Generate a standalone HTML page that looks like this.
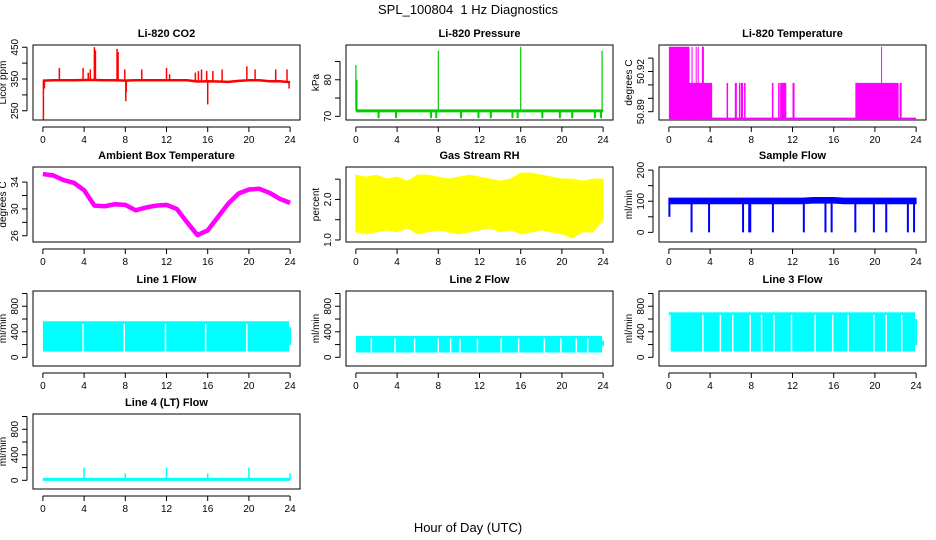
<!DOCTYPE html>
<html><head><meta charset="utf-8"><style>
html,body{margin:0;padding:0;background:#fff;}
svg{display:block;font-family:"Liberation Sans",Arial,sans-serif;}
</style></head><body>
<svg id="c" width="936" height="540" viewBox="0 0 936 540">
<text x="468" y="14" text-anchor="middle" font-size="13" style="white-space:pre">SPL_100804  1 Hz Diagnostics</text>
<text x="468" y="532" text-anchor="middle" font-size="13">Hour of Day (UTC)</text>
</svg>
<script>
// ---- data ----
const xTicks = [0,4,8,12,16,20,24];
const hours = [0,1,2,3,4,5,6,7,8,9,10,11,12,13,14,15,16,17,18,19,20,21,22,23,24];
// CO2
const co2Base = [345,346,346,346,347,347,346,346,345,346,346,346,346,346,346,342,343,342,341,344,346,346,343,343,340];
const co2SpikeHours = [0.05,0.15,1.6,3.9,4.4,4.6,5.0,5.1,7.2,7.3,7.95,8.05,8.1,9.6,12.0,12.3,14.8,15.1,15.4,15.9,16.0,16.5,17.4,19.8,20.6,22.6,23.7,23.9];
const co2SpikeVals = [222,320,385,385,370,380,450,440,445,435,380,280,310,380,385,365,370,375,380,375,270,375,380,390,380,380,380,320];
// Pressure
const presBase = 71.5;
const presSpikeHours = [0.0,0.1,8.0,16.0,23.9];
const presSpikeVals = [84,80,88,89,88];
const presDipHours = [2.2,3.9,7.3,7.8,10.2,11.9,13.1,15.2,15.7,18.1,19.8,21.0,23.2,23.8];
const presDipVals = [69.5,69.5,69.5,69.5,69.5,69.5,69.5,69.5,69.5,69.5,69.5,69.5,69.5,69.5];
// Li-820 temperature
const tLow = 50.885;
const tMidStart = [2.0,5.6,6.4,6.8,7.0,7.3,10.0,10.6,10.8,12.0,18.1,22.4];
const tMidEnd   = [4.2,5.7,6.6,6.9,7.2,7.4,10.05,10.7,11.4,12.2,22.3,22.6];
const tMidVal = 50.9115;
const tHighStart = [0.0,2.2,2.6,2.8,3.2,20.6];
const tHighEnd   = [2.0,2.3,2.7,2.9,3.4,20.65];
const tHighVal = 50.9385;
// Ambient temperature
const ambVals = [35.2,35.0,34.3,33.9,32.8,30.5,30.4,30.7,30.6,29.8,30.2,30.5,30.6,30.0,28.0,26.1,26.8,28.8,30.8,32.3,32.9,33.0,32.4,31.5,30.9];
// Gas stream RH
const rhHi = [2.6,2.55,2.6,2.5,2.55,2.45,2.6,2.6,2.55,2.5,2.55,2.6,2.55,2.5,2.45,2.5,2.65,2.65,2.6,2.55,2.5,2.5,2.45,2.5,2.5];
const rhLo = [1.2,1.15,1.2,1.25,1.2,1.3,1.15,1.2,1.25,1.2,1.15,1.2,1.25,1.3,1.2,1.25,1.15,1.2,1.25,1.2,1.15,1.05,1.2,1.2,1.5];
// Sample flow
const sfHi = [110,110,110,110,110,110,110,110,110,110,110,110,110,110,112,112,112,110,110,110,110,110,110,110,110];
const sfLo = [92,92,92,92,92,92,92,92,92,92,92,92,92,92,94,94,94,92,92,92,92,92,92,92,92];
const sfDipHours = [0.05,2.2,3.9,7.2,7.8,7.9,10.1,13.1,15.2,15.8,18.1,19.9,21.1,23.2,23.8];
const sfDipVals = [50,0,0,0,0,0,0,0,0,0,0,0,0,0,0];
// Line flows
const l1Lo = 90, l1Hi = 565, l1Gaps = [3.9,7.9,11.9,15.8,19.8], l1End = [24,470];
const l2Lo = 75, l2Hi = 335, l2Gaps = [1.5,3.8,5.7,8.0,9.2,10.1,11.8,14.1,15.8,18.3,19.9,21.4,22.5], l2End = [24,260];
const l3Lo = 90, l3Hi = 705, l3Gaps = [0.1,3.3,5.0,6.2,7.9,9.0,10.2,11.9,14.2,15.9,17.4,19.9,21.1,22.6], l3End = [24,600];
// Line 4
const l4Base = 15;
const l4SpikeHours = [4,8,12,16,20,24];
const l4SpikeVals = [200,110,200,110,200,110];

// ---- drawing ----
const svg = document.getElementById('c');
const NS = 'http://www.w3.org/2000/svg';
const colX = [33,346,659], rowY = [45,167,291,414], W = 267, H = 75;
function mk(tag, attrs, parent){const e=document.createElementNS(NS,tag);for(const k in attrs)e.setAttribute(k,attrs[k]);(parent||svg).appendChild(e);return e;}

function panel(col,row,title,ylab,ymin,ymax,yt,yl,name){
  const g = mk('g',{});
  
  
  const x0=colX[col], y0=rowY[row];
  const sx = v => x0 + (v+0.96)/25.92*W;
  const sy = v => y0 + H - (v-ymin)/(ymax-ymin)*H;
  const t = mk('text',{x:x0+W/2,y:y0-8,'text-anchor':'middle','font-size':11,'font-weight':'bold'},g);
  t.textContent = title;
  
  
  const box = mk('rect',{x:x0,y:y0,width:W,height:H,fill:'none',stroke:'#000','stroke-width':1},g);
  
  
  const ay = y0+H+7;
  mk('line',{x1:sx(0),x2:sx(24),y1:ay,y2:ay,stroke:'#000'},g);
  xTicks.forEach(v=>{
    mk('line',{x1:sx(v),x2:sx(v),y1:ay,y2:ay+5,stroke:'#000'},g);
    const tl = mk('text',{x:sx(v),y:ay+16,'text-anchor':'middle','font-size':10},g);
    tl.textContent = v;
    
    
  });
  const ax = x0-6;
  mk('line',{x1:ax,x2:ax,y1:sy(yt[0]),y2:sy(yt[yt.length-1]),stroke:'#000'},g);
  yt.forEach(v=>mk('line',{x1:ax-5,x2:ax,y1:sy(v),y2:sy(v),stroke:'#000'},g));
  yl.forEach(s=>{
    const yy=sy(Number(s));
    const tl = mk('text',{x:ax-9,y:yy,'text-anchor':'middle','font-size':10,transform:`rotate(-90 ${ax-9} ${yy})`},g);
    tl.textContent = s;
    
    
  });
  const yc = y0+H/2, lx = x0-27;
  const ytl = mk('text',{x:lx,y:yc,'text-anchor':'middle','font-size':10,transform:`rotate(-90 ${lx} ${yc})`},g);
  ytl.textContent = ylab;
  
  
  const clip = mk('g',{},g);
  return {sx,sy,g:clip};
}
function vline(p,h,a,b,color,w){mk('line',{x1:p.sx(h),x2:p.sx(h),y1:p.sy(a),y2:p.sy(b),stroke:color,'stroke-width':w||1.5},p.g);}
function poly(p,xs,ys,color,w){const pts=xs.map((h,i)=>p.sx(h)+','+p.sy(ys[i])).join(' ');return mk('polyline',{points:pts,fill:'none',stroke:color,'stroke-width':w||1.5,'stroke-linejoin':'round'},p.g);}
function band(p,xs,lo,hi,color){
  const pts = xs.map((h,i)=>p.sx(h)+','+p.sy(hi[i])).concat(xs.slice().reverse().map((h,j)=>{const i=xs.length-1-j;return p.sx(h)+','+p.sy(lo[i]);})).join(' ');
  return mk('polygon',{points:pts,fill:color,stroke:color,'stroke-width':1},p.g);
}

// CO2
let p = panel(0,0,'Li-820 CO2','Licor ppm',221,457,[250,300,350,400,450],['250','350','450'],'co2');
poly(p,hours,co2Base,'#ff0000',2.5);
co2SpikeHours.forEach((h,i)=>{const b=co2Base[Math.round(h)];vline(p,h,b,co2SpikeVals[i],'#ff0000',1.5);});

// Pressure
p = panel(1,0,'Li-820 Pressure','kPa',69,89.5,[70,75,80,85],['70','80'],'pressure');
poly(p,[0,24],[presBase,presBase],'#00cc00',3);
presSpikeHours.forEach((h,i)=>vline(p,h,presBase,presSpikeVals[i],'#00cc00',1.2));
presDipHours.forEach((h,i)=>vline(p,h,presBase,presDipVals[i],'#00cc00',2));

// Li-820 temperature
p = panel(2,0,'Li-820 Temperature','degrees C',50.8838,50.9398,[50.89,50.90,50.91,50.92,50.93],['50.89','50.92'],'li820-temp');
poly(p,[0,24],[tLow,tLow],'#ff00ff',1.5);
tMidStart.forEach((s,i)=>mk('rect',{x:p.sx(s),y:p.sy(tMidVal),width:Math.max(1.5,p.sx(tMidEnd[i])-p.sx(s)),height:p.sy(tLow)-p.sy(tMidVal),fill:'#ff00ff'},p.g));
tHighStart.forEach((s,i)=>mk('rect',{x:p.sx(s),y:p.sy(tHighVal),width:Math.max(1,p.sx(tHighEnd[i])-p.sx(s)),height:p.sy(tLow)-p.sy(tHighVal),fill:'#ff00ff'},p.g));

// Ambient temperature
p = panel(0,1,'Ambient Box Temperature','degrees C',25.07,36.25,[26,28,30,32,34],['26','30','34'],'ambient-temp');
poly(p,hours,ambVals,'#ff00ff',4.5);

// RH
p = panel(1,1,'Gas Stream RH','percent',0.95,2.8,[1.0,1.5,2.0,2.5],['1.0','2.0'],'rh');
band(p,hours,rhLo,rhHi,'#ffff00');

// Sample flow
p = panel(2,1,'Sample Flow','ml/min',-31,210,[0,50,100,150,200],['0','100','200'],'sample-flow');
band(p,hours,sfLo,sfHi,'#0000ff');
sfDipHours.forEach((h,i)=>vline(p,h,95,sfDipVals[i],'#0000ff',2));

// Line flows
function flow(col,row,title,name,lo,hi,gaps,end){
  const q = panel(col,row,title,'ml/min',-136,1039,[0,200,400,600,800,1000],['0','400','800'],name);
  const r = mk('rect',{x:q.sx(0),y:q.sy(hi),width:q.sx(23.9)-q.sx(0),height:q.sy(lo)-q.sy(hi),fill:'#00ffff'},q.g);
  
  gaps.forEach(h=>vline(q,h,lo-10,hi-40,'#ffffff',1.5));
  vline(q,end[0],lo+100,end[1],'#00ffff',2);
  return q;
}
flow(0,2,'Line 1 Flow','line1-flow',l1Lo,l1Hi,l1Gaps,l1End);
flow(1,2,'Line 2 Flow','line2-flow',l2Lo,l2Hi,l2Gaps,l2End);
flow(2,2,'Line 3 Flow','line3-flow',l3Lo,l3Hi,l3Gaps,l3End);

// Line 4
p = panel(0,3,'Line 4 (LT) Flow','ml/min',-136,1039,[0,200,400,600,800,1000],['0','400','800'],'line4-flow');
poly(p,[0,24],[l4Base,l4Base],'#00ffff',3);
l4SpikeHours.forEach((h,i)=>vline(p,h,l4Base,l4SpikeVals[i],'#00ffff',1.5));
</script>
</body></html>
